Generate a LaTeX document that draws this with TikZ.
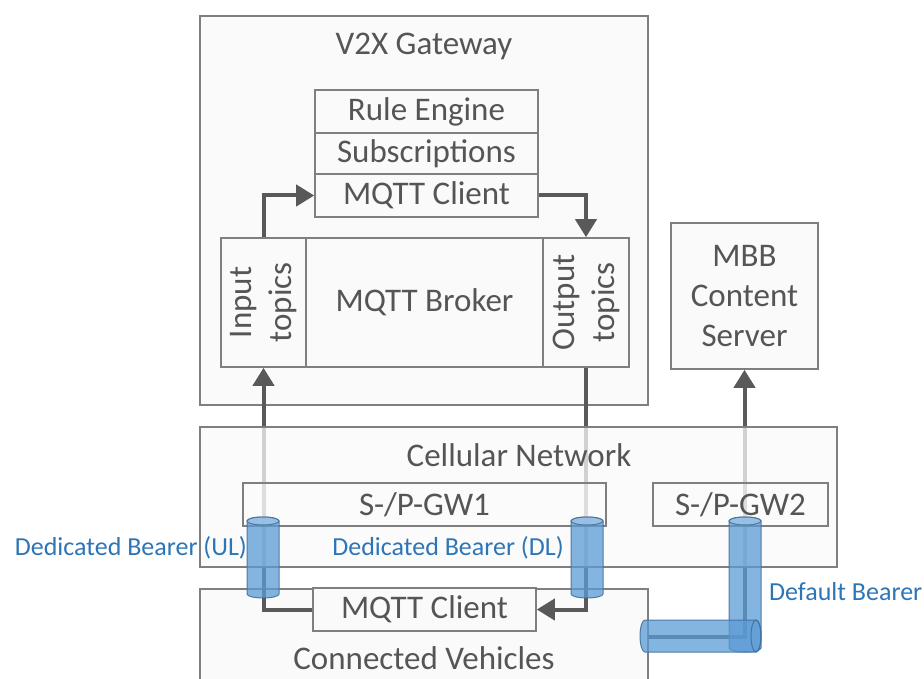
\documentclass[tikz,border=0pt]{standalone}
\usepackage{fontspec}
\setmainfont{Carlito}
\usetikzlibrary{arrows.meta}
\definecolor{txt}{HTML}{555555}
\definecolor{edge}{HTML}{7F7F7F}
\definecolor{boxfill}{HTML}{FAFAFA}
\definecolor{flow}{HTML}{595959}
\definecolor{bearer}{HTML}{5B9BD5}
\definecolor{bearerdk}{HTML}{41719C}
\definecolor{bearercap}{HTML}{9DC3E6}
\definecolor{bluetxt}{HTML}{2E75B6}

% vertical bearer tube: centre x, top y, bottom y
\newcommand{\vbearer}[3]{%
  \path[tube] ({#1-16},#2) -- ({#1-16},#3)
    arc[start angle=180,end angle=360,x radius=16,y radius=4]
    -- ({#1+16},#2)
    arc[start angle=0,end angle=180,x radius=16,y radius=4] -- cycle;
  \path[tubecap] (#1,#2) ellipse[x radius=16,y radius=4];}

\begin{document}
\begin{tikzpicture}[x=1pt,y=1pt,
  box/.style={draw=edge, line width=1.6pt, fill=boxfill, inner sep=0pt,
    text=txt, font=\fontsize{33}{40}\selectfont, align=center},
  label/.style={text=txt, font=\fontsize{33}{40}\selectfont, inner sep=0pt, align=center},
  bluelabel/.style={text=bluetxt, font=\fontsize{26}{30}\selectfont, inner sep=0pt},
  flowline/.style={draw=flow, line width=4pt,
    -{Triangle[width=21pt,length=18pt]}},
  tube/.style={fill=bearer, fill opacity=0.75, draw=bearerdk, draw opacity=0.9, line width=1pt},
  tubecap/.style={fill=bearercap, fill opacity=0.85, draw=bearerdk, draw opacity=0.9, line width=1pt},
]
\useasboundingbox (0,0) rectangle (924,-679);

% --- V2X gateway ---
\node[box, minimum width=448, minimum height=389] (gw) at (424,-210.5) {};
\node[label] (gwtitle) at (424,-46) {V2X Gateway};
\node[box, minimum width=223, minimum height=43] (rule) at (426.5,-111.5) {Rule Engine};
\node[box, minimum width=223, minimum height=41] (subs) at (426.5,-153.5) {Subscriptions};
\node[box, minimum width=223, minimum height=43] (mclient) at (426.5,-195.5) {MQTT Client};
\node[box, minimum width=85, minimum height=129] (intop) at (263.5,-302.5) {};
\node[box, minimum width=237, minimum height=129] (broker) at (424.5,-302.5) {MQTT Broker};
\node[box, minimum width=86, minimum height=129] (outtop) at (586,-302.5) {};
\node[label, rotate=90] (intoptxt) at (263.5,-302.5) {Input\\topics};
\node[label, rotate=90] (outtoptxt) at (586,-302.5) {Output\\topics};

% --- content server ---
\node[box, minimum width=147, minimum height=146] (mbb) at (744.5,-296) {MBB\\Content\\Server};

% --- vehicles ---
\node[box, minimum width=448, minimum height=140] (veh) at (424,-659) {};
\node[label] (vehtxt) at (424,-658) {Connected Vehicles};
\node[box, minimum width=223, minimum height=43] (vclient) at (424.5,-609.5) {MQTT Client};
\coordinate (vehport) at (648,-637);

% --- message flows ---
\draw[flowline] (intop.north) |- (mclient.west);
\draw[flowline] (mclient.east) -| (outtop.north);
\draw[flowline] (vclient.west) -| (intop.south);
\draw[flowline] (outtop.south) |- (vclient.east);
\draw[flowline] (vehport) -| (mbb.south);

% --- cellular network (translucent, over the flows) ---
\node[box, minimum width=637, minimum height=140, fill opacity=0.75] (cell) at (518.5,-497) {};
\node[label] (celltxt) at (519,-455) {Cellular Network};
\node[box, minimum width=363, minimum height=43, fill opacity=0.3] (sgw1) at (424.5,-504.5) {};
\node[label] (sgw1txt) at (424.5,-504.5) {S-/P-GW1};
\node[box, minimum width=175, minimum height=43, fill opacity=0.3] (sgw2) at (740.5,-504.5) {};
\node[label] (sgw2txt) at (740.5,-504.5) {S-/P-GW2};

% --- bearers ---
\vbearer{263}{-521}{-594}
\vbearer{587}{-521}{-594}
\vbearer{745}{-521}{-648}
\path[tube] (756,-620) -- (645,-620)
  arc[start angle=90,end angle=270,x radius=5,y radius=16]
  -- (756,-652)
  arc[start angle=-90,end angle=90,x radius=5,y radius=16] -- cycle;
\draw[bearerdk, draw opacity=0.9, line width=1pt] (756,-636) ellipse[x radius=5,y radius=16];

\node[bluelabel, anchor=east] (ullabel) at (247,-548) {Dedicated Bearer (UL)};
\node[bluelabel] (dllabel) at (448,-548) {Dedicated Bearer (DL)};
\node[bluelabel, anchor=west] (deflabel) at (769,-592) {Default Bearer};
\end{tikzpicture}
\end{document}
